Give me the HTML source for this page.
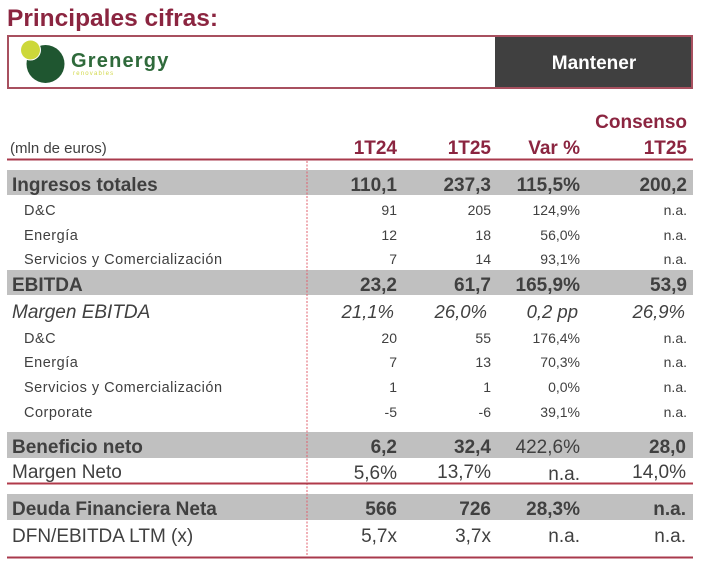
<!DOCTYPE html>
<html>
<head>
<meta charset="utf-8">
<style>
  html,body{margin:0;padding:0;background:#fff;}
  body{width:703px;height:568px;overflow:hidden;}
  svg{display:block;}
  text{font-family:"Liberation Sans", Arial, sans-serif;}
</style>
</head>
<body>
<svg width="703" height="568" viewBox="0 0 703 568" xmlns="http://www.w3.org/2000/svg">
  <!-- Title -->
  <text x="7" y="26" font-size="24.5" font-weight="bold" fill="#8b2540">Principales cifras:</text>

  <!-- Header box -->
  <rect x="495" y="36" width="197" height="52" fill="#404040"/>
  <rect x="8" y="36" width="684" height="52" fill="none" stroke="#a8505f" stroke-width="2"/>
  <text x="594" y="69" font-size="19" font-weight="bold" fill="#ffffff" text-anchor="middle">Mantener</text>

  <!-- Logo -->
  <circle cx="45.5" cy="64" r="19" fill="#1f5630"/>
  <circle cx="30.5" cy="50" r="10.5" fill="#ffffff"/>
  <circle cx="30.5" cy="50" r="9.5" fill="#cdd83a"/>
  <text x="71" y="67" font-size="20" font-weight="bold" fill="#2f6a3b" letter-spacing="1.2">Grenergy</text>
  <text x="73" y="75" font-size="6" fill="#d2d84a" letter-spacing="1.2">renovables</text>

  <!-- Column headers -->
  <text x="687" y="128" font-size="19" font-weight="bold" fill="#8b2540" text-anchor="end">Consenso</text>
  <text x="10" y="153" font-size="15" fill="#404040">(mln de euros)</text>
  <g font-size="19" font-weight="bold" fill="#8b2540" text-anchor="end">
    <text x="397" y="154">1T24</text>
    <text x="491" y="154">1T25</text>
    <text x="580" y="154">Var %</text>
    <text x="687" y="154">1T25</text>
  </g>
  <rect x="7" y="158.5" width="686" height="2" fill="#a83a4c"/>

  <!-- Gray bands -->
  <g fill="#c0c0c0">
    <rect x="7" y="170" width="686" height="25"/>
    <rect x="7" y="270" width="686" height="25"/>
    <rect x="7" y="432" width="686" height="26"/>
    <rect x="7" y="494" width="686" height="26"/>
  </g>

  <!-- Dashed vertical line -->
  <line x1="307" y1="161" x2="307" y2="557" stroke="#e0606e" stroke-width="1" stroke-dasharray="2,1.5"/>

  <g fill="#404040">
    <!-- Ingresos totales -->
    <text x="12" y="191" font-size="19" font-weight="bold">Ingresos totales</text>
    <g font-size="19" font-weight="bold" text-anchor="end">
      <text x="397" y="191">110,1</text>
      <text x="491" y="191">237,3</text>
      <text x="580" y="191">115,5%</text>
      <text x="687" y="191">200,2</text>
    </g>

    <g font-size="14.5" letter-spacing="0.5">
      <text x="24" y="215">D&amp;C</text>
      <text x="24" y="240">Energía</text>
      <text x="24" y="264">Servicios y Comercialización</text>
    </g>
    <g font-size="14" text-anchor="end">
      <text x="397" y="215">91</text>
      <text x="491" y="215">205</text>
      <text x="580" y="215">124,9%</text>
      <text x="687" y="215">n.a.</text>

      <text x="397" y="240">12</text>
      <text x="491" y="240">18</text>
      <text x="580" y="240">56,0%</text>
      <text x="687" y="240">n.a.</text>

      <text x="397" y="264">7</text>
      <text x="491" y="264">14</text>
      <text x="580" y="264">93,1%</text>
      <text x="687" y="264">n.a.</text>
    </g>

    <!-- EBITDA -->
    <text x="12" y="291" font-size="19" font-weight="bold">EBITDA</text>
    <g font-size="19" font-weight="bold" text-anchor="end">
      <text x="397" y="291">23,2</text>
      <text x="491" y="291">61,7</text>
      <text x="580" y="291">165,9%</text>
      <text x="687" y="291">53,9</text>
    </g>

    <text x="12" y="318" font-size="19" font-style="italic">Margen EBITDA</text>
    <g font-size="18.5" font-style="italic" text-anchor="end">
      <text x="394" y="318">21,1%</text>
      <text x="487" y="318">26,0%</text>
      <text x="578" y="318">0,2 pp</text>
      <text x="685" y="318">26,9%</text>
    </g>

    <g font-size="14.5" letter-spacing="0.5">
      <text x="24" y="343">D&amp;C</text>
      <text x="24" y="367">Energía</text>
      <text x="24" y="392">Servicios y Comercialización</text>
      <text x="24" y="417">Corporate</text>
    </g>
    <g font-size="14" text-anchor="end">
      <text x="397" y="343">20</text>
      <text x="491" y="343">55</text>
      <text x="580" y="343">176,4%</text>
      <text x="687" y="343">n.a.</text>

      <text x="397" y="367">7</text>
      <text x="491" y="367">13</text>
      <text x="580" y="367">70,3%</text>
      <text x="687" y="367">n.a.</text>

      <text x="397" y="392">1</text>
      <text x="491" y="392">1</text>
      <text x="580" y="392">0,0%</text>
      <text x="687" y="392">n.a.</text>

      <text x="397" y="417">-5</text>
      <text x="491" y="417">-6</text>
      <text x="580" y="417">39,1%</text>
      <text x="687" y="417">n.a.</text>
    </g>

    <!-- Beneficio neto -->
    <text x="12" y="453" font-size="19" font-weight="bold">Beneficio neto</text>
    <g font-size="19" text-anchor="end">
      <text x="397" y="453" font-weight="bold">6,2</text>
      <text x="491" y="453" font-weight="bold">32,4</text>
      <text x="580" y="453">422,6%</text>
      <text x="686" y="453" font-weight="bold">28,0</text>
    </g>

    <text x="12" y="478" font-size="19">Margen Neto</text>
    <g font-size="19" text-anchor="end">
      <text x="397" y="479">5,6%</text>
      <text x="491" y="478">13,7%</text>
      <text x="580" y="480">n.a.</text>
      <text x="686" y="478">14,0%</text>
    </g>
  </g>
  <rect x="7" y="482.5" width="686" height="2" fill="#b03a4a"/>

  <g fill="#404040">
    <!-- Deuda -->
    <text x="12" y="515" font-size="19" font-weight="bold">Deuda Financiera Neta</text>
    <g font-size="19" font-weight="bold" text-anchor="end">
      <text x="397" y="515">566</text>
      <text x="491" y="515">726</text>
      <text x="580" y="515">28,3%</text>
      <text x="686" y="515">n.a.</text>
    </g>

    <text x="12" y="542" font-size="19">DFN/EBITDA LTM (x)</text>
    <g font-size="19" text-anchor="end">
      <text x="397" y="542">5,7x</text>
      <text x="491" y="542">3,7x</text>
      <text x="580" y="542">n.a.</text>
      <text x="686" y="542">n.a.</text>
    </g>
  </g>
  <rect x="7" y="556.5" width="686" height="2" fill="#a83a4c"/>
</svg>
</body>
</html>
